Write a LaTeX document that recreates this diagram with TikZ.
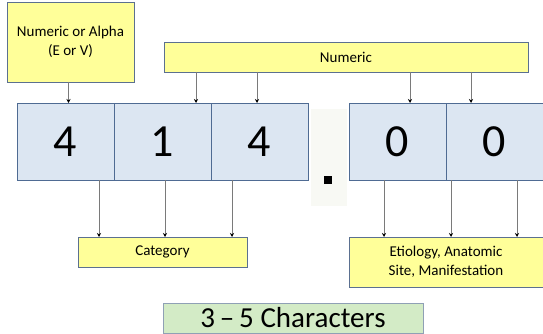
\documentclass[tikz,border=0pt]{standalone}
\usepackage{fontspec}
\setmainfont{Carlito}
\usetikzlibrary{positioning, arrows.meta}
\definecolor{noteyellow}{HTML}{FFFF99}
\definecolor{boxline}{HTML}{5B7090}
\definecolor{digitblue}{HTML}{DCE6F2}
\definecolor{digitline}{HTML}{4F6B93}
\definecolor{dotbg}{HTML}{F8F9F4}
\definecolor{charsgreen}{HTML}{D3EBC6}
\definecolor{greenline}{HTML}{8FA0B5}
\definecolor{pointergray}{HTML}{7A7A7A}

\begin{document}
\begin{tikzpicture}[x=1pt, y=-1pt, node distance=0pt,
  every node/.style={font=\fontsize{15}{18.5}\selectfont, inner sep=0pt, outer sep=0pt},
  label box/.style={draw=boxline, rectangle, fill=noteyellow, align=center, line width=0.8pt},
  digit/.style={draw=digitline, rectangle, fill=digitblue, minimum width=97pt, minimum height=77pt, font=\fontsize{46}{50}\selectfont, line width=0.8pt},
  >={Stealth[length=4pt, width=4pt, color=black]},
  pointer/.style={->, draw=pointergray, line width=0.7pt}]
  \useasboundingbox (0,0) rectangle (543,334);

  \node[label box, minimum width=127pt, minimum height=80pt, anchor=north west] (alpha) at (7,2) {Numeric or Alpha\\(E or V)};
  \node[label box, minimum width=364pt, minimum height=30pt, anchor=north west] (numeric) at (164,42) {Numeric};

  \node[digit, anchor=north west] (d1) at (17,103) {4};
  \node[digit, right=of d1] (d2) {1};
  \node[digit, right=of d2] (d3) {4};
  \node[fill=dotbg, minimum width=36pt, minimum height=97pt, anchor=north west] (gap) at (311,109) {};
  \node[fill=black, minimum size=8pt] (dot) at (328,180) {};
  \node[digit, anchor=north west] (e1) at (349,103) {0};
  \node[digit, right=of e1] (e2) {0};

  \node[label box, minimum width=169pt, minimum height=30pt, anchor=north west] (category) at (78,237) {Category};
  \node[label box, minimum width=194pt, minimum height=50pt, anchor=north west] (etiology) at (349,237) {Etiology, Anatomic\\Site, Manifestation};
  \node[draw=greenline, fill=charsgreen, line width=0.8pt, minimum width=260pt, minimum height=30pt, anchor=north west, font=\fontsize{29}{32}\selectfont] (chars) at (163,303) {3\,--\,5 Characters};

  \draw[pointer] ([xshift=-2pt]alpha.south) -- ([xshift=-2pt]alpha.south |- d1.north);
  \foreach \dx/\tgt in {32/d2, 93/d3, 246/e1, 307/e2}
    \draw[pointer] ([xshift=\dx pt]numeric.south west) -- ([xshift=\dx pt]numeric.south west |- \tgt.north);
  \foreach \dx/\src in {21/d1, 87/d2, 154/d3}
    \draw[pointer] ([xshift=\dx pt]category.north west |- \src.south) -- ([xshift=\dx pt]category.north west);
  \foreach \dx/\src in {35/e1, 102/e1, 168/e2}
    \draw[pointer] ([xshift=\dx pt]etiology.north west |- \src.south) -- ([xshift=\dx pt]etiology.north west);
\end{tikzpicture}
\end{document}
